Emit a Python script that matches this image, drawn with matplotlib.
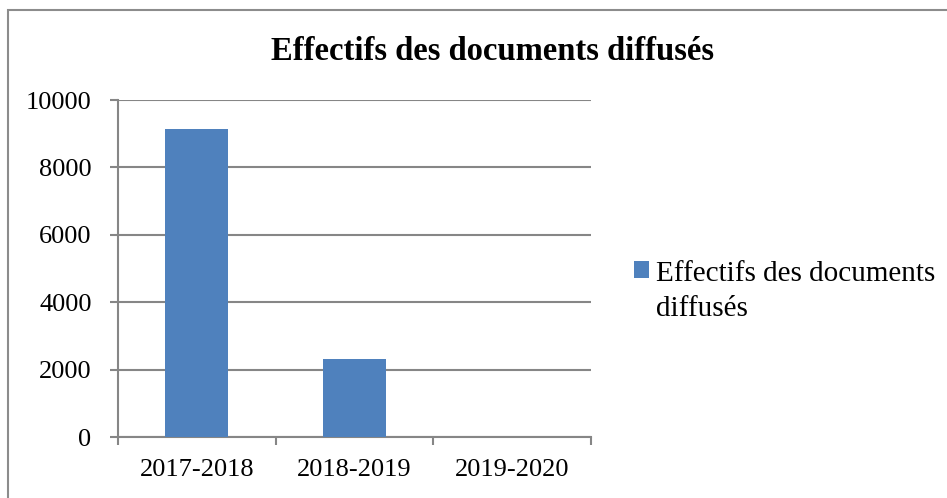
import matplotlib
matplotlib.use("Agg")
import matplotlib.pyplot as plt
from matplotlib.patches import Rectangle

categories = ["2017-2018", "2018-2019", "2019-2020"]
values = [9150, 2310, 0]
series_name = "Effectifs des documents\ndiffusés"
title = "Effectifs des documents diffusés"
yticks = [0, 2000, 4000, 6000, 8000, 10000]

plt.rcParams['font.family'] = ['Liberation Serif', 'DejaVu Serif']
grey = "#868686"

fig = plt.figure(figsize=(9.47, 4.98), dpi=100)
W, H = 947, 498
ax = fig.add_axes([118 / W, 1 - 437 / H, (591 - 118) / W, (437 - 100) / H])

x = list(range(len(categories)))
ax.bar(x, values, width=0.4, color="#4F81BD", label=series_name, zorder=3)
ax.set_xlim(-0.5, len(categories) - 0.5)
ax.set_ylim(0, 10000)
ax.set_yticks(yticks)
ax.set_yticklabels([str(v) for v in yticks])
ax.yaxis.grid(True, color=grey, linewidth=1.5, zorder=0)
ax.set_xticks(x)
ax.set_xticklabels(categories)
ax.set_xticks([-0.5, 0.5, 1.5, 2.5], minor=True)
ax.tick_params(axis='x', which='major', length=0, pad=16, labelsize=19)
ax.tick_params(axis='x', which='minor', length=6, color=grey, width=1.5)
ax.tick_params(axis='y', length=6, color=grey, width=1.5, pad=13, labelsize=19)
for s in ["top", "right"]:
    ax.spines[s].set_visible(False)
for s in ["left", "bottom"]:
    ax.spines[s].set_color(grey)
    ax.spines[s].set_linewidth(1.5)

fig.text(492 / W, 1 - 51 / H, title, ha="center", va="center",
         fontsize=23.5, fontweight="bold")

leg = ax.legend(loc="upper left", bbox_to_anchor=(634 / W, 1 - 261 / H),
                bbox_transform=fig.transFigure, frameon=False, fontsize=21,
                handlelength=0.52, handleheight=0.52, handletextpad=0.22,
                borderpad=0, borderaxespad=0, labelspacing=0)
for t in leg.get_texts():
    t.set_linespacing(1.45)
for col in leg._legend_handle_box.get_children():
    for row in col.get_children():
        row.align = "top"

fig.patches.append(Rectangle((8 / W, -0.1), 1.2, 0.1 + 1 - 10 / H,
                             transform=fig.transFigure, fill=False,
                             edgecolor="#8c8c8c", linewidth=1.5))

fig.savefig("out.png", dpi=100, facecolor="white")
